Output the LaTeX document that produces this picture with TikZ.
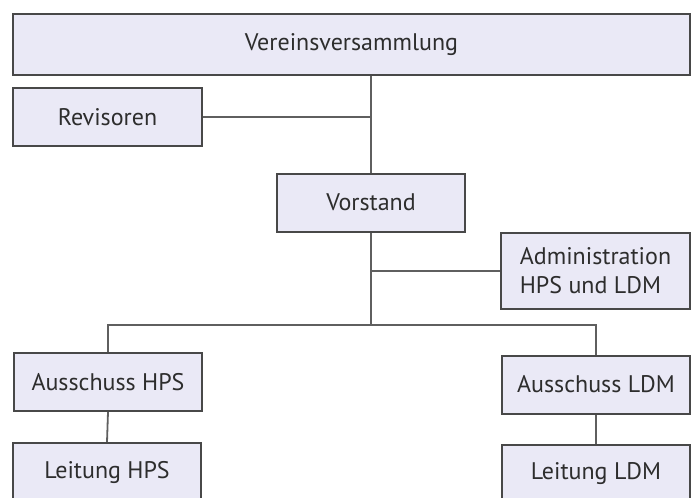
\documentclass[tikz,border=0pt]{standalone}
\usepackage{fontspec}
\setmainfont{PT Sans}
\usepackage{tikz}
\definecolor{boxfill}{RGB}{234,233,246}
\definecolor{boxline}{RGB}{72,72,72}
\definecolor{linkline}{RGB}{95,95,95}
\definecolor{boxtext}{RGB}{45,45,45}
\tikzstyle{orgbox}=[draw=boxline, fill=boxfill, line width=2pt, inner sep=0pt, text=boxtext,
  minimum width=188pt, minimum height=58pt, font=\fontsize{24}{29}\selectfont, align=left]
\tikzstyle{link}=[draw=linkline, line width=1.8pt]

\begin{document}
\begin{tikzpicture}[x=1pt, y=-1pt]
      \useasboundingbox (0,0) rectangle (691,498);
      \clip (0,0) rectangle (691,498);

      \node[orgbox, minimum width=677pt, minimum height=61pt] (verein) at (351.5,44.5) {Vereinsversammlung};
      \node[orgbox, minimum width=189pt] (revis) at (107.5,117) {Revisoren};
      \node[orgbox] (vorst) at (371,202.5) {Vorstand};
      \node[orgbox, minimum width=189pt, minimum height=76pt] (admin) at (595.5,271)
          {Administration\\HPS und LDM};

      \node[orgbox] (ahps) at (108,382) {Ausschuss HPS};
      \node[orgbox] (aldm) at (596,384.5) {Ausschuss LDM};
      \node[orgbox] (lhps) at (107,472) {Leitung HPS};
      \node[orgbox] (lldm) at (596,474) {Leitung LDM};

      \coordinate (bus) at (371,325);

      \draw[link] (verein.south -| vorst.north) -- (vorst.north);
      \draw[link] (revis.east) -- (revis.east -| vorst.north);
      \draw[link] (vorst.south) -- (bus);
      \draw[link] (admin.west) -- (admin.west -| vorst.south);
      \draw[link] (ahps.north) |- (bus) -| (aldm.north);
      \draw[link] (ahps.south) -- (lhps.north);
      \draw[link] (aldm.south) -- (lldm.north);
    \end{tikzpicture}
\end{document}
